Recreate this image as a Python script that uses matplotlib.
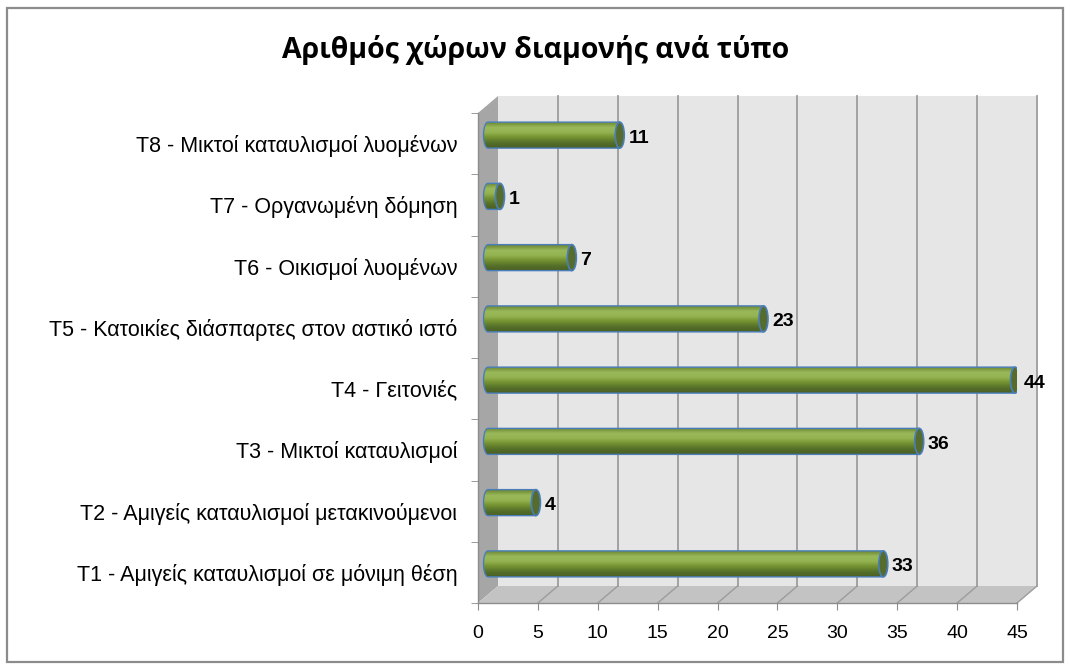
import numpy as np
import matplotlib
matplotlib.use("Agg")
from matplotlib import pyplot as plt
from matplotlib.patches import Polygon, Ellipse, PathPatch, Rectangle
from matplotlib.path import Path
from matplotlib.colors import LinearSegmentedColormap

plt.rcParams['font.family'] = ['Liberation Sans', 'DejaVu Sans']

# data (bottom to top)
categories = [
    "T1 - Αμιγείς καταυλισμοί σε μόνιμη θέση",
    "T2 - Αμιγείς καταυλισμοί μετακινούμενοι",
    "T3 - Μικτοί καταυλισμοί",
    "T4 - Γειτονιές",
    "T5 - Κατοικίες διάσπαρτες στον αστικό ιστό",
    "T6 - Οικισμοί λυομένων",
    "T7 - Οργανωμένη δόμηση",
    "T8 - Μικτοί καταυλισμοί λυομένων",
]
counts = [33, 4, 36, 44, 23, 7, 1, 11]
xticks = [0, 5, 10, 15, 20, 25, 30, 35, 40, 45]
title = "Αριθμός χώρων διαμονής ανά τύπο"

W, H = 1070, 670
fig = plt.figure(figsize=(W / 100, H / 100), dpi=100)

# outer frame
fig.patches.append(Rectangle((7 / W, 8 / H), 1056 / W, 654 / H, transform=fig.transFigure,
                             fill=False, edgecolor='#8c8c8c', lw=1.6))

ax_l, ax_r, ax_t, ax_b = 478, 1017, 113, 603
ax = fig.add_axes([ax_l / W, 1 - ax_b / H, (ax_r - ax_l) / W, (ax_b - ax_t) / H])

xmax = xticks[-1]
n = len(categories)
px_x = (ax_r - ax_l) / xmax
px_y = (ax_b - ax_t) / n
DX = 20 / px_x          # depth offset in data units
DY = 17 / px_y
y0, y1 = -0.5, n - 0.5

wall_kw = dict(clip_on=False, zorder=0, lw=0)
# back wall
ax.add_patch(Polygon([(DX, y0 + DY), (xmax + DX, y0 + DY), (xmax + DX, y1 + DY), (DX, y1 + DY)],
                     facecolor='#e6e6e6', **wall_kw))
# left side wall
ax.add_patch(Polygon([(0, y0), (DX, y0 + DY), (DX, y1 + DY), (0, y1)],
                     facecolor='#a6a6a6', **wall_kw))
# floor
ax.add_patch(Polygon([(0, y0), (xmax, y0), (xmax + DX, y0 + DY), (DX, y0 + DY)],
                     facecolor='#c3c3c3', **wall_kw))

grid_c = '#9c9c9c'
for t in xticks[1:]:
    ax.plot([t + DX, t + DX], [y0 + DY, y1 + DY], color=grid_c, lw=1.3, clip_on=False, zorder=1)
    ax.plot([t, t + DX], [y0, y0 + DY], color=grid_c, lw=1.0, clip_on=False, zorder=1)

# cylinder bars
cmap = LinearSegmentedColormap.from_list('cyl', ['#6d8834', '#9ab95a', '#93b24f', '#72902f', '#55702a', '#4a5f24'])
grad = np.linspace(0, 1, 64).reshape(-1, 1)
bh = 26 / px_y
rx = 4.5 / px_x
edge_c = '#4a7ebb'
th = np.linspace(np.pi / 2, 3 * np.pi / 2, 30)
for i, v in enumerate(counts):
    yc = i + DY / 2
    xs = DX / 2
    xe = v + DX / 2
    yt, yb = yc + bh / 2, yc - bh / 2
    verts = [(xe, yb), (xe, yt)] + [(xs + rx * np.cos(a), yc + bh / 2 * np.sin(a)) for a in th] + [(xe, yb)]
    body = PathPatch(Path(verts), facecolor='none', edgecolor=edge_c, lw=1.0, zorder=3)
    ax.add_patch(body)
    im = ax.imshow(grad, extent=[xs - rx, xe, yb, yt], origin='upper', aspect='auto',
                   cmap=cmap, zorder=2, interpolation='bilinear')
    im.set_clip_path(body)
    ax.add_patch(Ellipse((xe, yc), 2 * rx, bh, facecolor='#566c2c', edgecolor=edge_c, lw=1.2, zorder=4))
    ax.text(xe + rx + 0.35, yc - 0.05, str(v), ha='left', va='center', fontsize=14,
            fontweight='bold', zorder=5)

ax.set_xlim(0, xmax)
ax.set_ylim(y0, y1)
ax.set_facecolor('none')
for s in ['top', 'right']:
    ax.spines[s].set_visible(False)
for s in ['left', 'bottom']:
    ax.spines[s].set_color('#8c8c8c')
    ax.spines[s].set_linewidth(1.0)

ax.set_xticks(xticks)
ax.set_xticklabels([str(t) for t in xticks], fontsize=14)
ax.tick_params(axis='x', length=5, color='#8c8c8c', pad=11)

ax.set_yticks(range(n))
ax.set_yticklabels(categories, fontsize=15.5)
ax.set_yticks(np.arange(y0, y1 + 0.01, 1.0), minor=True)
ax.tick_params(axis='y', which='major', length=0, pad=15)
ax.tick_params(axis='y', which='minor', length=5, color='#8c8c8c')

fig.text(536 / W, 1 - 50 / H, title, ha='center', va='center', fontsize=20.5,
         fontweight='bold', family=['Open Sans', 'DejaVu Sans'])

fig.savefig('out.png', dpi=100)
